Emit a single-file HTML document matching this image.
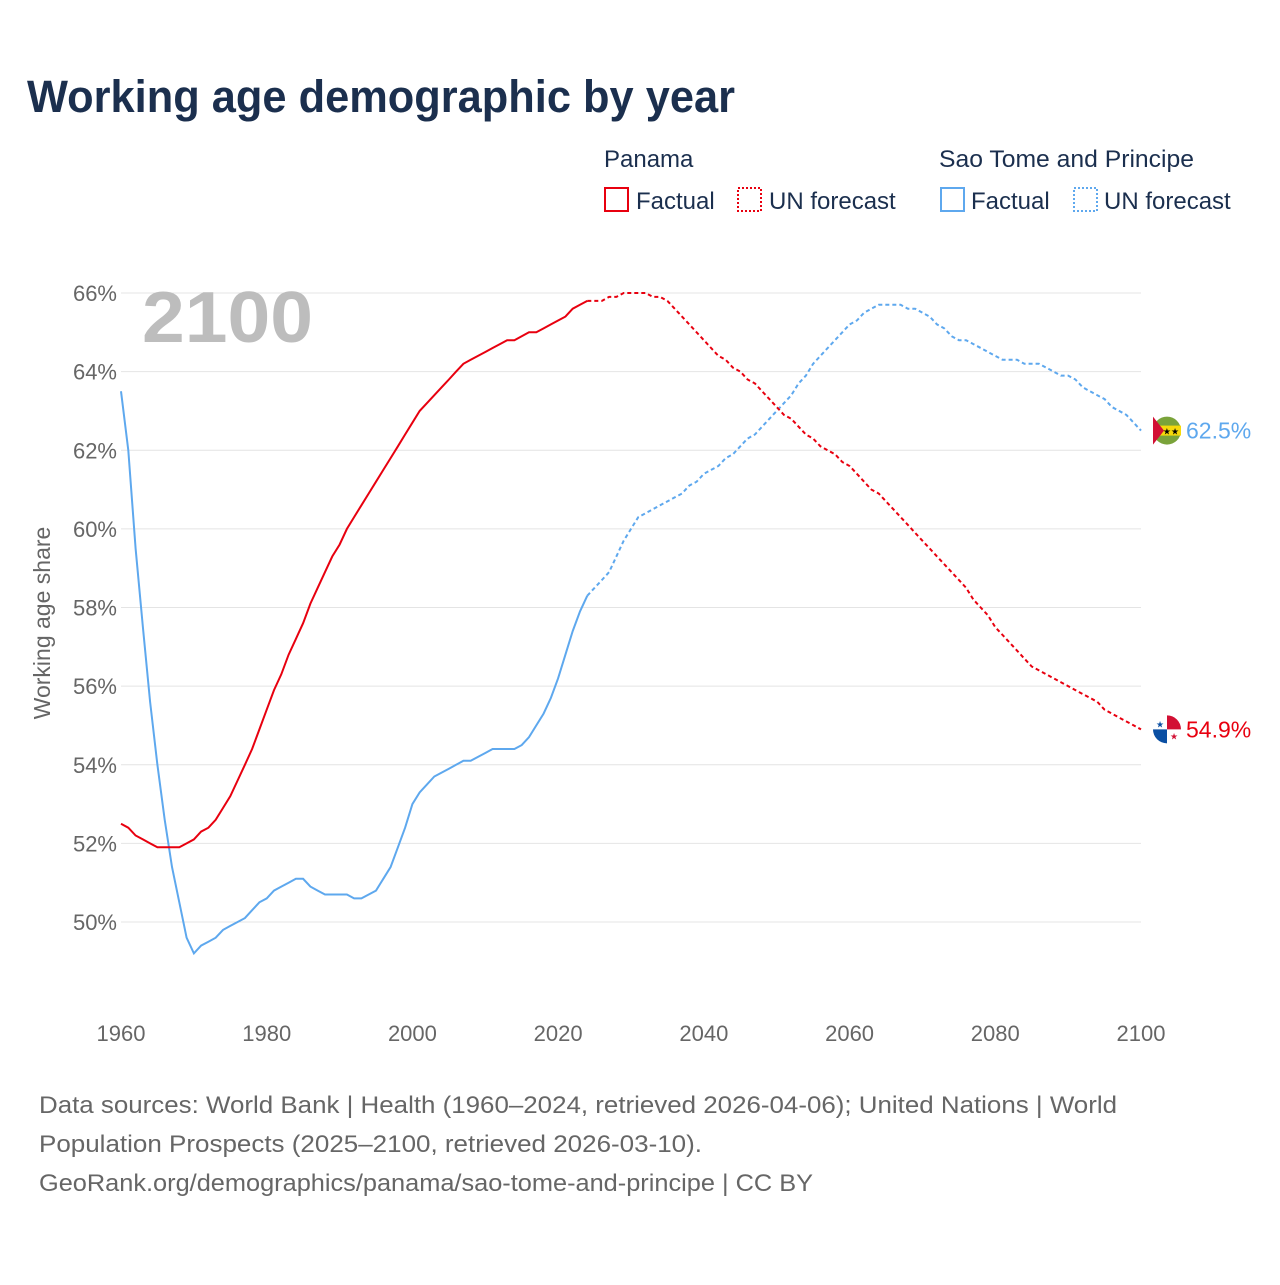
<!DOCTYPE html>
<html><head><meta charset="utf-8"><style>
body{margin:0;background:#fff;font-family:"Liberation Sans",sans-serif;}
svg text{font-family:"Liberation Sans",sans-serif;}
</style></head><body>
<svg id="chart" width="1280" height="1280" viewBox="0 0 1280 1280" xmlns="http://www.w3.org/2000/svg">
<rect width="1280" height="1280" fill="#fff"/>
<text x="27" y="112" font-size="45" font-weight="bold" fill="#1b2f4e" textLength="708" lengthAdjust="spacingAndGlyphs">Working age demographic by year</text>
<g>
<text x="604" y="167" font-size="24" fill="#1b2f4e">Panama</text>
<rect x="605" y="188" width="23" height="23" fill="none" stroke="#e8000f" stroke-width="2"/>
<text x="636" y="209" font-size="24" fill="#1b2f4e">Factual</text>
<rect x="738" y="188" width="23" height="23" fill="none" stroke="#e8000f" stroke-width="2" stroke-dasharray="2,2"/>
<text x="769" y="209" font-size="24" fill="#1b2f4e">UN forecast</text>
<text x="939" y="167" font-size="24" fill="#1b2f4e" textLength="255" lengthAdjust="spacingAndGlyphs">Sao Tome and Principe</text>
<rect x="941" y="188" width="23" height="23" fill="none" stroke="#5ea8ee" stroke-width="2"/>
<text x="971" y="209" font-size="24" fill="#1b2f4e">Factual</text>
<rect x="1074" y="188" width="23" height="23" fill="none" stroke="#5ea8ee" stroke-width="2" stroke-dasharray="2,2"/>
<text x="1104" y="209" font-size="24" fill="#1b2f4e">UN forecast</text>
</g>
<g id="grid"></g>
<text x="142" y="342" font-size="72" font-weight="bold" fill="#bdbdbd" textLength="171" lengthAdjust="spacingAndGlyphs">2100</text>
<text transform="translate(50,623) rotate(-90)" text-anchor="middle" font-size="23" fill="#666">Working age share</text>
<g id="series"></g>
<g font-size="24" fill="#666">
<text x="39" y="1113" textLength="1078" lengthAdjust="spacingAndGlyphs">Data sources: World Bank | Health (1960–2024, retrieved 2026-04-06); United Nations | World</text>
<text x="39" y="1152" textLength="663" lengthAdjust="spacingAndGlyphs">Population Prospects (2025–2100, retrieved 2026-03-10).</text>
<text x="39" y="1191" textLength="774" lengthAdjust="spacingAndGlyphs">GeoRank.org/demographics/panama/sao-tome-and-principe | CC BY</text>
</g>
</svg>
<script>
const yTicks=[50,52,54,56,58,60,62,64,66];
const xTicks=[1960,1980,2000,2020,2040,2060,2080,2100];
const panamaFactual=[52.5,52.4,52.2,52.1,52.0,51.9,51.9,51.9,51.9,52.0,52.1,52.3,52.4,52.6,52.9,53.2,53.6,54.0,54.4,54.9,55.4,55.9,56.3,56.8,57.2,57.6,58.1,58.5,58.9,59.3,59.6,60.0,60.3,60.6,60.9,61.2,61.5,61.8,62.1,62.4,62.7,63.0,63.2,63.4,63.6,63.8,64.0,64.2,64.3,64.4,64.5,64.6,64.7,64.8,64.8,64.9,65.0,65.0,65.1,65.2,65.3,65.4,65.6,65.7,65.8];
const panamaForecast=[65.8,65.8,65.8,65.9,65.9,66.0,66.0,66.0,66.0,65.9,65.9,65.8,65.6,65.4,65.2,65.0,64.8,64.6,64.4,64.3,64.1,64.0,63.8,63.7,63.5,63.3,63.1,62.9,62.8,62.6,62.4,62.3,62.1,62.0,61.9,61.7,61.6,61.4,61.2,61.0,60.9,60.7,60.5,60.3,60.1,59.9,59.7,59.5,59.3,59.1,58.9,58.7,58.5,58.2,58.0,57.8,57.5,57.3,57.1,56.9,56.7,56.5,56.4,56.3,56.2,56.1,56.0,55.9,55.8,55.7,55.6,55.4,55.3,55.2,55.1,55.0,54.9];
const stpFactual=[63.5,62.0,59.5,57.5,55.6,54.0,52.6,51.4,50.5,49.6,49.2,49.4,49.5,49.6,49.8,49.9,50.0,50.1,50.3,50.5,50.6,50.8,50.9,51.0,51.1,51.1,50.9,50.8,50.7,50.7,50.7,50.7,50.6,50.6,50.7,50.8,51.1,51.4,51.9,52.4,53.0,53.3,53.5,53.7,53.8,53.9,54.0,54.1,54.1,54.2,54.3,54.4,54.4,54.4,54.4,54.5,54.7,55.0,55.3,55.7,56.2,56.8,57.4,57.9,58.3];
const stpForecast=[58.3,58.5,58.7,58.9,59.3,59.7,60.0,60.3,60.4,60.5,60.6,60.7,60.8,60.9,61.1,61.2,61.4,61.5,61.6,61.8,61.9,62.1,62.3,62.4,62.6,62.8,63.0,63.2,63.4,63.7,63.9,64.2,64.4,64.6,64.8,65.0,65.2,65.3,65.5,65.6,65.7,65.7,65.7,65.7,65.6,65.6,65.5,65.4,65.2,65.1,64.9,64.8,64.8,64.7,64.6,64.5,64.4,64.3,64.3,64.3,64.2,64.2,64.2,64.1,64.0,63.9,63.9,63.8,63.6,63.5,63.4,63.3,63.1,63.0,62.9,62.7,62.5];
const factualStart=1960, forecastStart=2024;
const NS='http://www.w3.org/2000/svg';
const X=y=>121+(y-1960)*(1020/140);
const Y=v=>922-(v-50)*(629/16);
const grid=document.getElementById('grid');
yTicks.forEach(t=>{
 const l=document.createElementNS(NS,'line');
 l.setAttribute('x1',121);l.setAttribute('x2',1141);l.setAttribute('y1',Y(t));l.setAttribute('y2',Y(t));
 l.setAttribute('stroke','#e4e4e4');
 
 
 grid.appendChild(l);
 const tx=document.createElementNS(NS,'text');
 tx.setAttribute('x',117);tx.setAttribute('y',Y(t)+8);tx.setAttribute('text-anchor','end');
 tx.setAttribute('font-size','22');tx.setAttribute('fill','#666');
 tx.textContent=t+'%';
 
 
 grid.appendChild(tx);
});
xTicks.forEach(t=>{
 const tx=document.createElementNS(NS,'text');
 tx.setAttribute('x',X(t));tx.setAttribute('y',1041);tx.setAttribute('text-anchor','middle');
 tx.setAttribute('font-size','22');tx.setAttribute('fill','#666');
 tx.textContent=t;
 
 
 grid.appendChild(tx);
});
const sg=document.getElementById('series');
function line(arr,start,color,dash,name){
 const p=document.createElementNS(NS,'path');
 p.setAttribute('d',arr.map((v,i)=>(i?'L':'M')+X(start+i).toFixed(1)+','+Y(v).toFixed(1)).join(''));
 p.setAttribute('fill','none');p.setAttribute('stroke',color);p.setAttribute('stroke-width','2');
 if(dash)p.setAttribute('stroke-dasharray','4,3');
 
 
 sg.appendChild(p);
}
line(stpFactual,factualStart,'#5ea8ee',false,'stp-factual-line');
line(panamaFactual,factualStart,'#e8000f',false,'panama-factual-line');
line(stpForecast,forecastStart,'#5ea8ee',true,'stp-forecast-line');
line(panamaForecast,forecastStart,'#e8000f',true,'panama-forecast-line');
function endLabel(v,color,name,kind){
 const cx=X(2100)+26, cy=Y(v);
 const g=document.createElementNS(NS,'g');
 
 
 if(kind==='stp'){
  g.innerHTML=`<circle cx="${cx}" cy="${cy}" r="14" fill="#7aa33a"/><rect x="${cx-14}" y="${cy-5}" width="28" height="10" fill="#f5d90a"/><path d="M${cx-14},${cy-14} L${cx-3},${cy} L${cx-14},${cy+14}Z" fill="#d21034"/><text x="${cx+4}" y="${cy+4}" font-size="9" fill="#000" text-anchor="middle">★★</text>`;
 } else {
  g.innerHTML=`<circle cx="${cx}" cy="${cy}" r="14" fill="#fff"/><path d="M${cx},${cy-14} A14,14 0 0 1 ${cx+14},${cy} L${cx},${cy}Z" fill="#d21034"/><path d="M${cx},${cy+14} A14,14 0 0 1 ${cx-14},${cy} L${cx},${cy}Z" fill="#0a4fa3"/><text x="${cx-7}" y="${cy-2}" font-size="9" fill="#0a4fa3" text-anchor="middle">★</text><text x="${cx+7}" y="${cy+10}" font-size="9" fill="#d21034" text-anchor="middle">★</text>`;
 }
 sg.appendChild(g);
 const t=document.createElementNS(NS,'text');
 t.setAttribute('x',cx+19);t.setAttribute('y',cy+8);t.setAttribute('font-size','23');t.setAttribute('fill',color);
 t.textContent=v.toFixed(1)+'%';
 
 
 sg.appendChild(t);
}
endLabel(stpForecast[stpForecast.length-1],'#5ea8ee','stp','stp');
endLabel(panamaForecast[panamaForecast.length-1],'#e8000f','panama','pan');
</script>
</body></html>
